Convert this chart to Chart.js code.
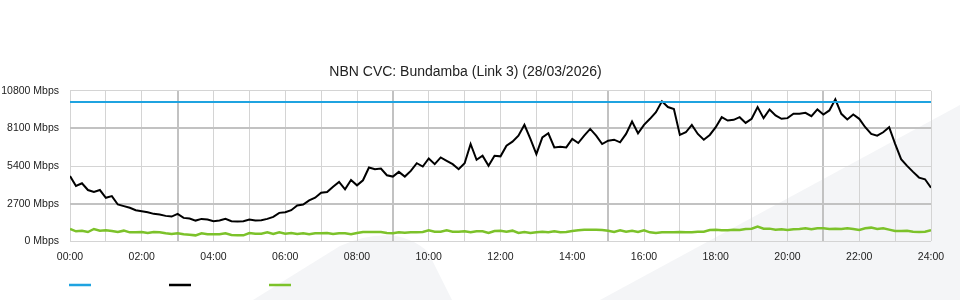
<!DOCTYPE html>
<html>
<head>
<meta charset="utf-8">
<script src="https://cdn.jsdelivr.net/npm/chart.js@4"></script>
<style>
  html, body { margin: 0; padding: 0; background: #fff; }
  #wrap { width: 960px; height: 300px; position: relative; }
</style>
</head>
<body>
<div id="wrap"><canvas id="chart"></canvas></div>
<script>
// traffic samples, one every 10 minutes from 00:00 to 24:00 (Mbps)
const stepMinutes = 10;
const capacity = 10000;

const trafficValues = [
  4696, 3973, 4166, 3684, 3540, 3684, 3130, 3250, 2649, 2528, 2408, 2239,
  2167, 2095, 1975, 1926, 1830, 1782, 1975, 1686, 1637, 1493, 1613, 1565,
  1445, 1493, 1613, 1445, 1420, 1445, 1565, 1493, 1517, 1613, 1758, 2047,
  2095, 2239, 2577, 2649, 2938, 3130, 3491, 3540, 3925, 4262, 3732, 4400,
  4021, 4383, 5298, 5176, 5225, 4745, 4648, 4985, 4648, 5057, 5610, 5370,
  5948, 5539, 6020, 5779, 5539, 5176, 5600, 6984, 5851, 6140, 5418, 6140,
  6100, 6863, 7152, 7585, 8358, 7345, 6261, 7465, 7754, 6743, 6791, 6743,
  7345, 7055, 7585, 8068, 7585, 6984, 7224, 7296, 7104, 7706, 8597, 7754,
  8358, 8790, 9271, 10041, 9633, 9500, 7634, 7826, 8358, 7706, 7296, 7634,
  8187, 8910, 8669, 8717, 8910, 8501, 8790, 9633, 8838, 9463, 9030, 8790,
  8838, 9150, 9150, 9222, 8982, 9463, 9102, 9391, 10186, 9150, 8741, 9102,
  8790, 8187, 7706, 7585, 7826, 8187, 7000, 5900, 5418, 4985, 4576, 4455,
  3853
];

const otherValues = [
  891, 722, 770, 674, 891, 770, 794, 746, 674, 770, 650, 650,
  674, 602, 674, 650, 578, 530, 578, 506, 482, 433, 578, 506,
  506, 506, 578, 458, 433, 433, 602, 554, 554, 650, 530, 650,
  554, 602, 530, 578, 506, 578, 578, 602, 530, 578, 578, 506,
  602, 674, 674, 674, 674, 602, 578, 650, 626, 650, 650, 674,
  794, 698, 698, 794, 698, 698, 722, 650, 722, 722, 602, 746,
  770, 698, 770, 602, 674, 602, 650, 698, 650, 722, 650, 674,
  746, 794, 843, 843, 843, 818, 770, 674, 794, 698, 770, 674,
  794, 650, 602, 650, 650, 650, 674, 650, 650, 698, 698, 818,
  843, 794, 794, 843, 818, 891, 915, 1059, 915, 915, 843, 867,
  818, 867, 891, 939, 867, 939, 939, 891, 915, 891, 939, 891,
  818, 939, 987, 891, 939, 843, 746, 746, 770, 698, 674, 698,
  794
];

const yTicks = [0, 2700, 5400, 8100, 10800];
const titleText = 'NBN CVC: Bundamba (Link 3) (28/03/2026)';
const seriesColors = ['#1fa3e0', '#000000', '#7cc22a'];

const toPoints = vals => vals.map((v, i) => ({ x: i * stepMinutes, y: v }));
const pad2 = n => String(n).padStart(2, '0');

const backdrop = {
  id: 'backdrop',
  beforeDraw(chart) {
    const c = chart.ctx;
    c.save();
    c.fillStyle = '#ffffff';
    c.fillRect(0, 0, chart.width, chart.height);
    c.fillStyle = '#f4f5f7';
    c.beginPath();
    c.moveTo(253, 300);
    c.lineTo(340, 246);
    c.quadraticCurveTo(395, 222, 428, 252);
    c.lineTo(452, 300);
    c.closePath();
    c.fill();
    c.beginPath();
    c.moveTo(600, 300);
    c.lineTo(960, 105);
    c.lineTo(960, 300);
    c.closePath();
    c.fill();
    c.restore();
  }
};

const lineLegend = {
  id: 'lineLegend',
  afterDraw(chart) {
    const c = chart.ctx;
    const left = chart.chartArea.left - 1;
    c.save();
    c.lineWidth = 2.5;
    chart.data.datasets.forEach((ds, i) => {
      c.strokeStyle = ds.borderColor;
      c.beginPath();
      c.moveTo(left + i * 100, 285);
      c.lineTo(left + i * 100 + 22, 285);
      c.stroke();
    });
    c.restore();
  }
};

const heavyX = v => v % 360 === 180;
const heavyY = v => v === 2700 || v === 8100;

new Chart(document.getElementById('chart'), {
  type: 'line',
  data: {
    datasets: [
      { label: '', data: [{ x: 0, y: capacity }, { x: 1440, y: capacity }], borderColor: seriesColors[0], borderWidth: 2 },
      { label: '', data: toPoints(trafficValues), borderColor: seriesColors[1], borderWidth: 2 },
      { label: '', data: toPoints(otherValues), borderColor: seriesColors[2], borderWidth: 2.5 }
    ]
  },
  options: {
    responsive: true,
    maintainAspectRatio: false,
    animation: false,
    elements: { point: { radius: 0 }, line: { tension: 0 } },
    layout: { padding: { left: 0, right: 29, top: 0, bottom: 28 } },
    plugins: {
      legend: { display: false },
      tooltip: { enabled: false },
      title: {
        display: true,
        text: titleText,
        color: '#222',
        font: { family: 'Liberation Sans, Arial, sans-serif', size: 14, weight: 'normal' },
        padding: { top: 64, bottom: 10 }
      }
    },
    scales: {
      x: {
        type: 'linear',
        min: 0,
        max: 1440,
        border: { display: false },
        grid: {
          drawTicks: false,
          color: ctx => heavyX(ctx.tick.value) ? '#c2c2c2' : '#d4d4d4',
          lineWidth: ctx => heavyX(ctx.tick.value) ? 2 : 1
        },
        ticks: {
          stepSize: 60,
          autoSkip: false,
          maxRotation: 0,
          padding: 9,
          color: '#222',
          font: { family: 'Liberation Sans, Arial, sans-serif', size: 10.5 },
          callback: v => v % 120 === 0 ? pad2(v / 60) + ':00' : ''
        }
      },
      y: {
        min: 0,
        max: 10800,
        border: { display: false },
        afterFit: s => { s.width = 70; },
        afterBuildTicks: s => { s.ticks = yTicks.map(v => ({ value: v })); },
        grid: {
          drawTicks: false,
          color: ctx => heavyY(ctx.tick.value) ? '#c2c2c2' : '#d4d4d4',
          lineWidth: ctx => heavyY(ctx.tick.value) ? 2 : 1
        },
        ticks: {
          padding: 11,
          color: '#222',
          font: { family: 'Liberation Sans, Arial, sans-serif', size: 10.5 },
          callback: v => v + ' Mbps'
        }
      }
    }
  },
  plugins: [backdrop, lineLegend]
});
</script>
</body>
</html>
